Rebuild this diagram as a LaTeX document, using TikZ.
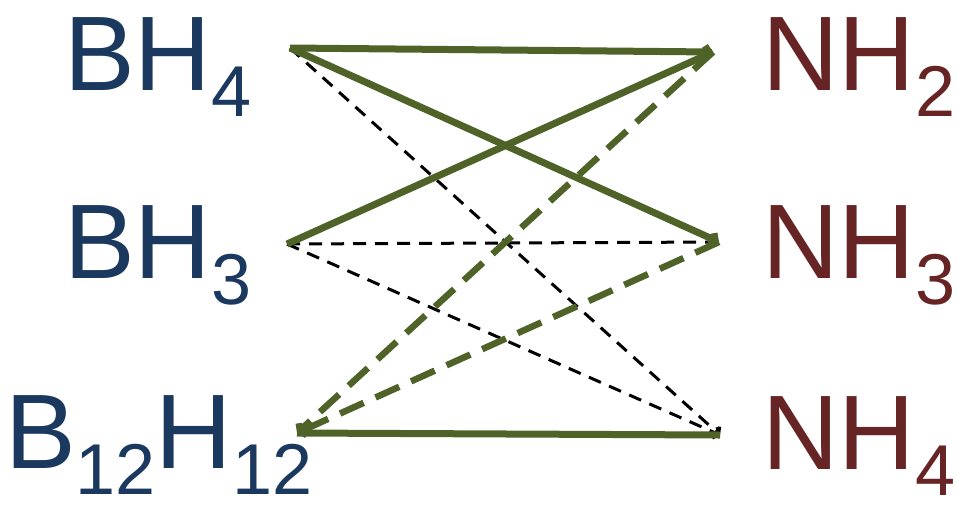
\documentclass[tikz,border=0pt]{standalone}
\usepackage{fontspec}
\setmainfont{Liberation Sans}
\usepackage{xcolor}
\usetikzlibrary{positioning,arrows.meta}
\definecolor{boron}{RGB}{27,57,94}
\definecolor{nitro}{RGB}{102,36,36}
\definecolor{olive}{RGB}{79,98,40}
\newcommand{\chemsub}[1]{\raisebox{-26pt}{\fontsize{72}{72}\selectfont #1}}
\tikzset{
    borlabel/.style={anchor=base west, inner sep=0pt, text=boron, font=\fontsize{106}{106}\selectfont},
    nitlabel/.style={anchor=base west, inner sep=0pt, text=nitro, font=\fontsize{106}{106}\selectfont},
    strong/.style={draw=olive, line width=7pt},
    medium/.style={draw=olive, line width=6.5pt, dash pattern=on 26pt off 13pt},
    weak/.style={draw=black, line width=3pt, dash pattern=on 13pt off 9pt},
    tip/.style={-{Straight Barb[length=4pt,width=12pt]}}
}

\begin{document}
\begin{tikzpicture}[x=1pt,y=-1pt]
\useasboundingbox (0,0) rectangle (957,504);
% species
\node[borlabel] (bh4) at (64,90) {BH\chemsub{4}};
\node[borlabel] (bh3) at (64,278) {BH\chemsub{3}};
\node[borlabel] (b12) at (5,468) {B\chemsub{12}H\chemsub{12}};
\node[nitlabel] (nh2) at (762,90) {NH\chemsub{2}};
\node[nitlabel] (nh3) at (762,278) {NH\chemsub{3}};
\node[nitlabel] (nh4) at (762,469) {NH\chemsub{4}};
% ends of the links
\coordinate (pbh4) at (290,48);
\coordinate (pbh3) at (287,244);
\coordinate (pb12) at (297,433);
\coordinate (pnh2) at (713,52);
\coordinate (pnh3) at (719,242);
\coordinate (pnh4) at (720,435);
% links
\draw[weak, tip] (pbh4) -- (pnh4);
\draw[weak] (pbh3) -- (pnh3);
\draw[weak, tip] (pbh3) -- (pnh4);
\draw[medium, tip] (pnh2) -- (pb12);
\draw[medium, tip] (pnh3) -- (pb12);
\draw[strong, tip] (pbh4) -- (pnh2);
\draw[strong, tip] (pbh4) -- (pnh3);
\draw[strong] (pbh3) -- (pnh2);
\draw[strong] (pb12) -- (pnh4);
\end{tikzpicture}
\end{document}
